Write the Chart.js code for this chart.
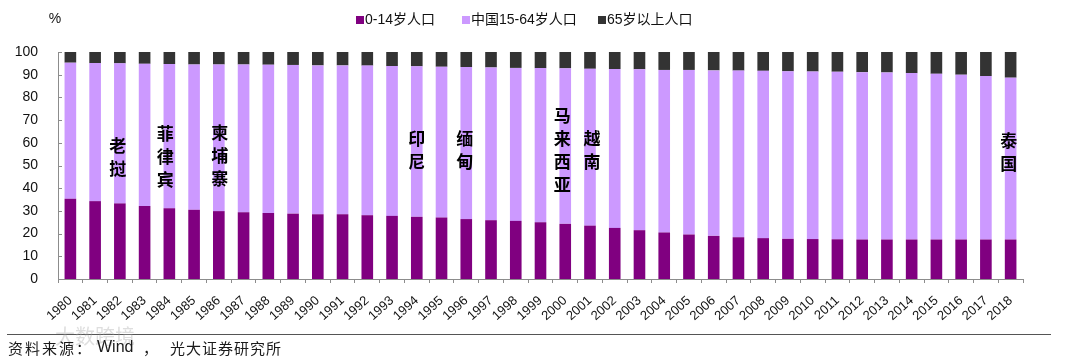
<!DOCTYPE html>
<html>
<head>
<meta charset="utf-8">
<script src="https://cdn.jsdelivr.net/npm/chart.js@4.4.1/dist/chart.umd.min.js"></script>
<style>
  html, body { margin: 0; padding: 0; background: #ffffff; }
  #wrap { position: relative; width: 1067px; height: 361px; }
  canvas { display: block; }
</style>
</head>
<body>
<div id="wrap"><canvas id="c" width="1067" height="361"></canvas></div>
<script>
// ---- data ----
const years = ['1980','1981','1982','1983','1984','1985','1986','1987','1988','1989',
  '1990','1991','1992','1993','1994','1995','1996','1997','1998','1999',
  '2000','2001','2002','2003','2004','2005','2006','2007','2008','2009',
  '2010','2011','2012','2013','2014','2015','2016','2017','2018'];

const age0to14 = [35.3,34.3,33.3,32.2,31.2,30.5,29.9,29.4,29.1,28.8,
  28.5,28.5,28.1,27.8,27.4,27.1,26.4,25.9,25.6,25.0,
  24.3,23.5,22.5,21.5,20.5,19.6,19.0,18.4,18.0,17.7,
  17.6,17.5,17.4,17.4,17.4,17.4,17.4,17.4,17.4];

const age65plus = [4.7,4.9,5.0,5.2,5.3,5.5,5.5,5.5,5.6,5.7,
  5.9,5.9,6.0,6.2,6.3,6.5,6.6,6.8,7.0,7.1,
  7.2,7.4,7.5,7.6,7.9,7.9,8.1,8.2,8.3,8.5,
  8.6,8.7,8.9,9.0,9.3,9.6,10.0,10.6,11.3];

// 15-64 share = remainder of 100
const age15to64 = age0to14.map((v, i) => +(100 - v - age65plus[i]).toFixed(1));

const seriesNames = ['0-14岁人口', '中国15-64岁人口', '65岁以上人口'];
const yTicks = [0,10,20,30,40,50,60,70,80,90,100];

// country annotations: year where placed, value of first character centre
const noteTexts = ['老挝', '菲律宾', '柬埔寨', '印尼', '缅甸', '马来西亚', '越南', '泰国'];
const noteYears = ['1982', '1984', '1986', '1994', '1996', '2000', '2001', '2018'];
const noteValues = [58.7, 64.0, 64.6, 61.8, 61.8, 72.0, 61.8, 61.1];

const colors = ['#800080', '#cc99ff', '#333333'];
const LATIN = '"Liberation Sans", Arial, "Noto Sans CJK SC", sans-serif';
const CJK = '"Noto Sans CJK SC", "Liberation Sans", sans-serif';

const decorPlugin = {
  id: 'decor',
  afterDraw(chart) {
    const ctx = chart.ctx;
    const xs = chart.scales.x, ys = chart.scales.y;
    ctx.save();
    // inward y-axis ticks
    ctx.strokeStyle = '#8c8c8c';
    ctx.lineWidth = 1;
    yTicks.forEach(v => {
      const y = Math.round(ys.getPixelForValue(v)) + 0.5;
      ctx.beginPath();
      ctx.moveTo(xs.left, y);
      ctx.lineTo(xs.left + 4, y);
      ctx.stroke();
    });

    // "%" unit label
    ctx.fillStyle = '#111';
    ctx.font = '14px ' + LATIN;
    ctx.textAlign = 'center';
    ctx.textBaseline = 'middle';
    ctx.fillText('%', 55, 19);

    // legend
    const legendX = [356, 462, 598];
    ctx.font = '14px ' + LATIN;
    ctx.textAlign = 'left';
    seriesNames.forEach((n, i) => {
      ctx.fillStyle = colors[i];
      ctx.fillRect(legendX[i], 16, 8, 8);
      ctx.fillStyle = '#111';
      ctx.fillText(n, legendX[i] + 9, 20);
    });

    // country annotations (vertical text)
    ctx.font = 'bold 17px ' + CJK;
    ctx.fillStyle = '#000';
    ctx.textAlign = 'center';
    ctx.textBaseline = 'middle';
    const dx = [-2, -4, 1, 0, -1.5, -3, 2, -2];
    noteTexts.forEach((t, i) => {
      const idx = years.indexOf(noteYears[i]);
      const x = xs.getPixelForValue(idx) + dx[i];
      const y0 = ys.getPixelForValue(noteValues[i]);
      [...t].forEach((ch, k) => ctx.fillText(ch, x, y0 + k * 23));
    });

    // bottom rule
    ctx.strokeStyle = '#555';
    ctx.lineWidth = 1.2;
    ctx.beginPath();
    ctx.moveTo(7, 334.5);
    ctx.lineTo(1051, 334.5);
    ctx.stroke();

    // faint watermark
    ctx.fillStyle = 'rgba(160,160,160,0.35)';
    ctx.font = '20px ' + CJK;
    ctx.textAlign = 'left';
    ctx.fillText('大数跨境', 55, 336);

    // source line
    ctx.fillStyle = '#1a1a1a';
    ctx.textBaseline = 'middle';
    ctx.font = '15px ' + CJK;
    try { ctx.letterSpacing = '2px'; } catch (e) {}
    ctx.fillText('资料来源：', 8, 348);
    try { ctx.letterSpacing = '0px'; } catch (e) {}
    ctx.font = '16px ' + LATIN;
    ctx.fillText('Wind', 97, 348);
    ctx.font = '15px ' + CJK;
    ctx.fillText('，', 143, 348);
    try { ctx.letterSpacing = '1px'; } catch (e) {}
    ctx.fillText('光大证券研究所', 170, 348);
    ctx.restore();
  }
};

new Chart(document.getElementById('c'), {
  type: 'bar',
  data: {
    labels: years,
    datasets: [
      { label: seriesNames[0], data: age0to14, backgroundColor: colors[0] },
      { label: seriesNames[1], data: age15to64, backgroundColor: colors[1] },
      { label: seriesNames[2], data: age65plus, backgroundColor: colors[2] }
    ]
  },
  options: {
    responsive: false,
    animation: false,
    devicePixelRatio: 1,
    layout: { padding: { top: 52, right: 44, left: 0, bottom: 0 } },
    datasets: { bar: { barPercentage: 0.47, categoryPercentage: 1.0, borderWidth: 0 } },
    plugins: { legend: { display: false }, tooltip: { enabled: false } },
    scales: {
      x: {
        stacked: true,
        afterFit(s) { s.height = 82; },
        grid: { display: true, drawOnChartArea: false, offset: true, tickLength: 4, color: '#8c8c8c' },
        border: { display: true, color: '#8c8c8c' },
        ticks: {
          autoSkip: false, minRotation: 42, maxRotation: 42, padding: 10,
          color: '#111', font: { size: 13, family: LATIN }
        }
      },
      y: {
        stacked: true,
        min: 0, max: 100,
        afterFit(s) { s.width = 58; },
        afterBuildTicks(s) { s.ticks = yTicks.map(v => ({ value: v })); },
        grid: { display: false },
        border: { display: true, color: '#8c8c8c' },
        ticks: { padding: 12, color: '#111', font: { size: 14, family: LATIN } }
      }
    }
  },
  plugins: [decorPlugin]
});
</script>
</body>
</html>
